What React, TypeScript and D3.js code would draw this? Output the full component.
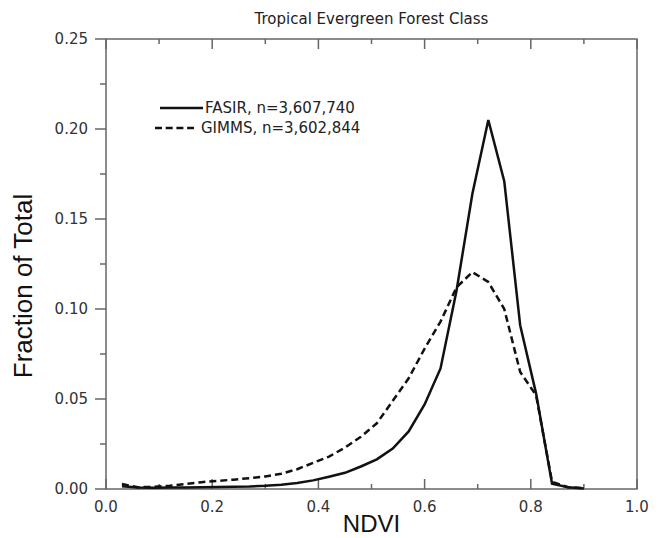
import { useEffect, useRef } from 'react';
import * as d3 from 'd3';

// NDVI bin centres
const ndvi = [
  0.03, 0.06, 0.09, 0.12, 0.15, 0.18, 0.21, 0.24, 0.27, 0.30,
  0.33, 0.36, 0.39, 0.42, 0.45, 0.48, 0.51, 0.54, 0.57, 0.60,
  0.63, 0.66, 0.69, 0.72, 0.75, 0.78, 0.81, 0.84, 0.87, 0.90,
];

const fasir = [
  0.0015, 0.0008, 0.0007, 0.0008, 0.0009, 0.001, 0.0011, 0.0012, 0.0014, 0.0018,
  0.0024, 0.0033, 0.0048, 0.0068, 0.009, 0.0125, 0.0165, 0.0225, 0.032, 0.047,
  0.067, 0.11, 0.164, 0.205, 0.171, 0.091, 0.053, 0.003, 0.001, 0.0003,
];

const gimms = [
  0.0028, 0.001, 0.0012, 0.0018, 0.0028, 0.0038, 0.0045, 0.0052, 0.006, 0.007,
  0.0085, 0.011, 0.0145, 0.018, 0.023, 0.029, 0.0365, 0.049, 0.0615, 0.078,
  0.093, 0.112, 0.1205, 0.115, 0.1, 0.065, 0.052, 0.004, 0.001, 0.0005,
];

const xMajor = [0, 0.2, 0.4, 0.6, 0.8, 1.0];
const xMinor = [0.1, 0.3, 0.5, 0.7, 0.9];
const yMajor = [0, 0.05, 0.1, 0.15, 0.2, 0.25];
const yMinor = [0.025, 0.075, 0.125, 0.175, 0.225];

const legendLabels = ['FASIR, n=3,607,740', 'GIMMS, n=3,602,844'];

const W = 659;
const H = 538;

const App = () => {
  const svgRef = useRef(null);

  useEffect(() => {
    const svg = d3.select(svgRef.current);
    svg.selectAll('*').remove();

    const left = 106, right = 637, top = 39, bottom = 489;
    const x = d3.scaleLinear().domain([0, 1]).range([left, right]);
    const y = d3.scaleLinear().domain([0, 0.25]).range([bottom, top]);

    const axisColor = '#666';
    const tickFont = 'DejaVu Sans, sans-serif';

    // frame
    svg.append('rect')
      .attr('x', left).attr('y', top)
      .attr('width', right - left).attr('height', bottom - top)
      .attr('fill', 'none')
      .attr('stroke', axisColor)
      .attr('stroke-width', 1.5);

    // x ticks, inward on bottom and top
    const xt = [...xMajor.map(v => ({ v, len: 10 })), ...xMinor.map(v => ({ v, len: 5 }))];
    svg.append('g').selectAll('line.xb')
      .data(xt).enter().append('line')
      .attr('x1', d => x(d.v)).attr('x2', d => x(d.v))
      .attr('y1', bottom).attr('y2', d => bottom - d.len)
      .attr('stroke', axisColor).attr('stroke-width', 1.5);
    svg.append('g').selectAll('line.xt')
      .data(xt).enter().append('line')
      .attr('x1', d => x(d.v)).attr('x2', d => x(d.v))
      .attr('y1', top).attr('y2', d => top + d.len)
      .attr('stroke', axisColor).attr('stroke-width', 1.5);

    // y ticks, outward on left
    const yt = [...yMajor.map(v => ({ v, len: 11 })), ...yMinor.map(v => ({ v, len: 6 }))];
    svg.append('g').selectAll('line.yl')
      .data(yt).enter().append('line')
      .attr('x1', left).attr('x2', d => left - d.len)
      .attr('y1', d => y(d.v)).attr('y2', d => y(d.v))
      .attr('stroke', axisColor).attr('stroke-width', 1.5);

    // tick labels
    svg.append('g').selectAll('text')
      .data(xMajor).enter().append('text')
      .attr('x', d => x(d)).attr('y', bottom + 23)
      .attr('text-anchor', 'middle')
      .attr('font-family', tickFont).attr('font-size', 15)
      .attr('fill', '#333')
      .text(d => d3.format('.1f')(d));

    svg.append('g').selectAll('text')
      .data(yMajor).enter().append('text')
      .attr('x', left - 18).attr('y', d => y(d))
      .attr('dy', '0.36em')
      .attr('text-anchor', 'end')
      .attr('font-family', tickFont).attr('font-size', 15)
      .attr('fill', '#333')
      .text(d => d3.format('.2f')(d));

    // titles
    svg.append('text')
      .attr('x', (left + right) / 2).attr('y', 24)
      .attr('text-anchor', 'middle')
      .attr('font-family', tickFont).attr('font-size', 15)
      .attr('fill', '#222')
      .text('Tropical Evergreen Forest Class');

    svg.append('text')
      .attr('x', (left + right) / 2).attr('y', 532)
      .attr('text-anchor', 'middle')
      .attr('font-family', 'Liberation Sans, Arial, sans-serif').attr('font-size', 24)
      .attr('fill', '#111')
      .text('NDVI');

    svg.append('text')
      .attr('transform', `translate(32,${(top + bottom) / 2 + 22}) rotate(-90)`)
      .attr('text-anchor', 'middle')
      .attr('font-family', 'Liberation Sans, Arial, sans-serif').attr('font-size', 26)
      .attr('fill', '#111')
      .text('Fraction of Total');

    // series
    const line = d3.line<number>()
      .x((_, i) => x(ndvi[i]))
      .y(d => y(d));

    svg.append('path')
      .datum(gimms)
      .attr('fill', 'none')
      .attr('stroke', '#111')
      .attr('stroke-width', 2.5)
      .attr('stroke-dasharray', '7,4')
      .attr('d', line);

    svg.append('path')
      .datum(fasir)
      .attr('fill', 'none')
      .attr('stroke', '#111')
      .attr('stroke-width', 2.5)
      .attr('d', line);

    // legend
    const lg = svg.append('g');
    lg.append('line')
      .attr('x1', 160).attr('x2', 203).attr('y1', 108).attr('y2', 108)
      .attr('stroke', '#111').attr('stroke-width', 2.5);
    lg.append('line')
      .attr('x1', 155).attr('x2', 194).attr('y1', 128).attr('y2', 128)
      .attr('stroke', '#111').attr('stroke-width', 2.5)
      .attr('stroke-dasharray', '7,3.7');
    lg.append('text')
      .attr('x', 205).attr('y', 108).attr('dy', '0.36em')
      .attr('font-family', tickFont).attr('font-size', 15)
      .attr('fill', '#222')
      .text(legendLabels[0]);
    lg.append('text')
      .attr('x', 201).attr('y', 128).attr('dy', '0.36em')
      .attr('font-family', tickFont).attr('font-size', 15)
      .attr('fill', '#222')
      .text(legendLabels[1]);
  }, []);

  return (
    <div>
      <svg ref={svgRef} width={W} height={H} style={{ display: 'block', position: 'absolute', left: 0, top: 0 }}></svg>
    </div>
  );
};

export default App;
